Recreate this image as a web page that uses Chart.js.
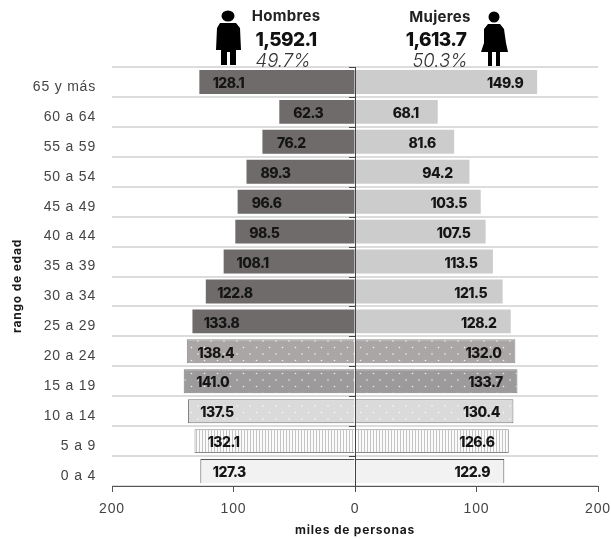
<!DOCTYPE html>
<html>
<head>
<meta charset="utf-8">
<script src="https://cdn.jsdelivr.net/npm/chart.js@4"></script>
<style>
  html, body { margin: 0; padding: 0; background: #fff; }
  #wrap { position: relative; width: 611px; height: 539px; overflow: hidden; }
  canvas { position: absolute; left: 0; top: 0; }
  .head { position: absolute; transform: translate(-50%, -50%); white-space: nowrap; color: #111; font-family: Inter, sans-serif; }
  .name { font-size: 15px; font-weight: 700; color: #222; letter-spacing: 0.3px; }
  .total { font-size: 19px; font-weight: 800; letter-spacing: -0.6px; }
  .share { font-size: 18.5px; font-weight: 300; font-style: italic; color: #333; }
  svg { position: absolute; }
</style>
</head>
<body>
<div id="wrap">
  <canvas id="pyramid" width="611" height="539"></canvas>

  <svg style="left:214px;top:8px" width="30" height="60" viewBox="0 0 30 60">
    <ellipse cx="14" cy="8" rx="6.5" ry="5.5" fill="#000"/>
    <path d="M6 15 H22 L26 20 L27 42 H22 V57 H16 V44 H13 V57 H7 V42 H2 L3 20 Z" fill="#000"/>
  </svg>
  <svg style="left:479px;top:8px" width="32" height="60" viewBox="0 0 32 60">
    <ellipse cx="15" cy="9" rx="5.5" ry="5.5" fill="#000"/>
    <path d="M9 16 H21 L25 21 L27 35 L29 44 H21 V58 H17 V44 H13 V58 H9 V44 H2 L5 35 L5 21 Z" fill="#000"/>
  </svg>

  <div class="head name" style="left:286px;top:15px">Hombres</div>
  <div class="head total" style="left:286px;top:39px">1,592.1</div>
  <div class="head share" style="left:283px;top:60px">49.7%</div>
  <div class="head name" style="left:440px;top:16px">Mujeres</div>
  <div class="head total" style="left:436px;top:39px">1,613.7</div>
  <div class="head share" style="left:440px;top:60px">50.3%</div>
</div>

<script>
const ageGroups = ['65 y más', '60 a 64', '55 a 59', '50 a 54', '45 a 49', '40 a 44', '35 a 39',
    '30 a 34', '25 a 29', '20 a 24', '15 a 19', '10 a 14', '5 a 9', '0 a 4'];
const hombres = [128.1, 62.3, 76.2, 89.3, 96.6, 98.5, 108.1, 122.8, 133.8, 138.4, 141.0, 137.5, 132.1, 127.3];
const mujeres = [149.9, 68.1, 81.6, 94.2, 103.5, 107.5, 113.5, 121.5, 128.2, 132.0, 133.7, 130.4, 126.6, 122.9];
const axisTicks = [-200, -100, 0, 100, 200];

const labelFont = { family: 'Inter', size: 14, weight: '800' };

// white dots on a grey ground, staggered
function dotPattern(ground) {
    const tile = document.createElement('canvas');
    tile.width = 13;
    tile.height = 13;
    const c = tile.getContext('2d');
    c.fillStyle = ground;
    c.fillRect(0, 0, 13, 13);
    c.fillStyle = 'rgba(255,255,255,0.85)';
    [[3, 3], [9.5, 9.5]].forEach(([x, y]) => {
        c.beginPath();
        c.arc(x, y, 0.8, 0, Math.PI * 2);
        c.fill();
    });
    return c.createPattern(tile, 'repeat');
}

function stripePattern() {
    const tile = document.createElement('canvas');
    tile.width = 3;
    tile.height = 3;
    const c = tile.getContext('2d');
    c.fillStyle = '#fbfbfb';
    c.fillRect(0, 0, 3, 3);
    c.fillStyle = '#c4c4c4';
    c.fillRect(1, 0, 1, 3);
    return c.createPattern(tile, 'repeat');
}

const menFill = Array(9).fill('#6f6b6b').concat([dotPattern('#aaa6a6'), dotPattern('#9c9a9a'), dotPattern('#dadada'), stripePattern(), '#f2f2f2']);
const womenFill = Array(9).fill('#cdcccc').concat([dotPattern('#aaa6a6'), dotPattern('#9c9a9a'), dotPattern('#dadada'), stripePattern(), '#f2f2f2']);
const edgeColor = Array(9).fill('rgba(0,0,0,0)').concat(['#8f8b8b', '#7d7b7b', '#777777', '#8a8a8a', '#555555']);

function edgeWidth(ctx) {
    if (ctx.dataIndex < 9) return 0;
    if (ctx.dataIndex === 13) return { top: 1, left: 1, right: 1, bottom: 0 };
    return 1;
}

// the original's axis text is widely tracked
const tracking = {
    id: 'tracking',
    beforeDraw(chart) {
        chart.ctx.letterSpacing = '0.8px';
    }
};

const barValues = {
    id: 'barValues',
    afterDatasetsDraw(chart) {
        const c = chart.ctx;
        c.save();
        c.font = `${labelFont.weight} ${labelFont.size}px ${labelFont.family}`;
        c.letterSpacing = '-0.5px';
        c.fillStyle = '#151515';
        c.textAlign = 'center';
        c.textBaseline = 'middle';
        chart.data.datasets.forEach((ds, d) => {
            chart.getDatasetMeta(d).data.forEach((bar, i) => {
                const shift = d === 0 ? 29 : -32;
                c.fillText(Math.abs(ds.data[i]).toFixed(1), bar.x + shift, bar.y + 2);
            });
        });
        c.restore();
    }
};

// short marks on the left of the centre line, one per row boundary
const centreMarks = {
    id: 'centreMarks',
    afterDatasetsDraw(chart) {
        const c = chart.ctx;
        const zero = chart.scales.x.getPixelForValue(0);
        const step = chart.scales.y.height / ageGroups.length;
        c.save();
        c.strokeStyle = '#444';
        c.lineWidth = 1;
        c.beginPath();
        for (let i = 0; i < ageGroups.length; i++) {
            const y = Math.round(chart.scales.y.top + i * step) + 0.5;
            c.moveTo(zero - 6, y);
            c.lineTo(zero, y);
        }
        c.moveTo(zero + 0.5, chart.scales.y.top);
        c.lineTo(zero + 0.5, chart.scales.y.bottom + 5);
        c.stroke();
        c.restore();
    }
};

// sits lower than the axis centre, which a scale title can't do
const ageTitle = {
    id: 'ageTitle',
    afterDraw(chart) {
        const c = chart.ctx;
        c.save();
        c.translate(17, 286);
        c.rotate(-Math.PI / 2);
        c.font = '700 12px Inter';
        c.letterSpacing = '0.8px';
        c.fillStyle = '#1a1a1a';
        c.textAlign = 'center';
        c.textBaseline = 'middle';
        c.fillText('rango de edad', 0, 0);
        c.restore();
    }
};

new Chart(document.getElementById('pyramid'), {
    type: 'bar',
    data: {
        labels: ageGroups,
        datasets: [
            { label: 'Hombres', data: hombres.map(v => -v), backgroundColor: menFill, borderColor: edgeColor, borderWidth: edgeWidth },
            { label: 'Mujeres', data: mujeres, backgroundColor: womenFill, borderColor: edgeColor, borderWidth: edgeWidth }
        ]
    },
    options: {
        indexAxis: 'y',
        responsive: false,
        animation: false,
        layout: { autoPadding: false, padding: { left: 0, right: 13, top: 67, bottom: 1 } },
        plugins: { legend: { display: false }, tooltip: { enabled: false } },
        datasets: { bar: { barPercentage: 0.8, categoryPercentage: 1, grouped: false } },
        scales: {
            x: {
                min: -200,
                max: 200,
                afterBuildTicks(scale) { scale.ticks = axisTicks.map(v => ({ value: v })); },
                afterFit(scale) {
                    scale.height = 52;
                    scale.paddingLeft = 0;
                    scale.paddingRight = 0;
                },
                border: { display: true, color: '#555', width: 1 },
                grid: { drawOnChartArea: false, drawTicks: true, tickLength: 6, tickColor: '#555' },
                ticks: {
                    color: '#444',
                    maxRotation: 0,
                    padding: 9,
                    font: { family: 'Liberation Sans', size: 14 },
                    callback: v => Math.abs(v)
                },
                title: {
                    display: true,
                    text: 'miles de personas',
                    color: '#1a1a1a',
                    font: { family: 'Inter', size: 12, weight: '700' },
                    padding: { top: 4, bottom: 0 }
                }
            },
            y: {
                stacked: false,
                afterFit(scale) { scale.width = 112; },
                border: { display: false },
                grid: { color: '#dcdcdc', lineWidth: 2, drawTicks: false },
                ticks: {
                    color: '#444',
                    padding: 16,
                    labelOffset: 5,
                    font: { family: 'Liberation Sans', size: 14 }
                }
            }
        }
    },
    plugins: [tracking, barValues, centreMarks, ageTitle]
});
</script>
</body>
</html>
